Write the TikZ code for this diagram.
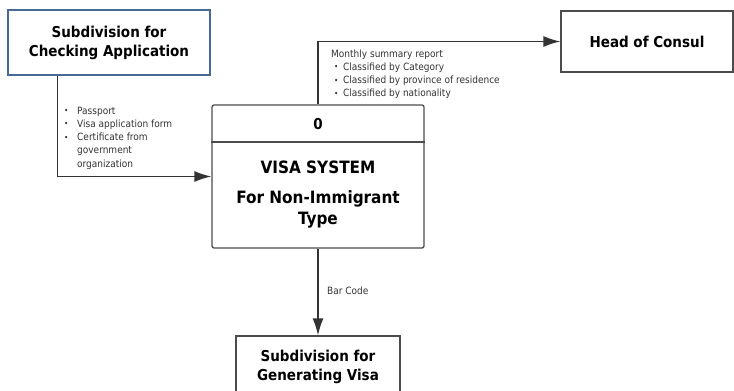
\documentclass[tikz,border=0pt]{standalone}
\usepackage{fontspec}
\setmainfont{DejaVu Sans Condensed}
\usetikzlibrary{arrows.meta}
\definecolor{chkblue}{RGB}{72,104,150}
\newcommand\bul{\raisebox{.1ex}{\footnotesize\textbullet}}
\begin{document}
\begin{tikzpicture}[x=1pt,y=-1pt,>={Latex[length=17pt,width=11pt]},
  box/.style={draw=black!70,line width=1.3pt,inner sep=0pt,align=center,font=\bfseries\fontsize{15}{19}\selectfont},
  flow/.style={->,draw=black!80,line width=1.4pt},
  small/.style={inner sep=0pt,text=black!80,font=\fontsize{10}{13.3}\selectfont}]
\useasboundingbox (0,0) rectangle (734,391);
\clip (0,0) rectangle (734,391);

\node[box,draw=chkblue,minimum width=202pt,minimum height=65pt] (chk) at (109,42.5) {Subdivision for\\Checking Application};
\node[box,minimum width=172pt,minimum height=61pt] (head) at (647,41.5) {Head of Consul};
\node[box,rounded corners=2pt,minimum width=212pt,minimum height=143pt] (sys) at (318,176.5) {};
\node[box,minimum width=164pt,minimum height=62pt] (gen) at (318,367) {Subdivision for\\Generating Visa};
\draw[black!70,line width=1.3pt] (sys.west |- 0,142) -- (sys.east |- 0,142);

\node[anchor=base,font=\bfseries\fontsize{15}{19}\selectfont] (num) at (318,129) {0};
\node[anchor=base,font=\bfseries\fontsize{17}{21}\selectfont] (title1) at (318,173) {VISA SYSTEM};
\node[anchor=base,font=\bfseries\fontsize{17}{21}\selectfont] (title2) at (318,203) {For Non-Immigrant};
\node[anchor=base,font=\bfseries\fontsize{17}{21}\selectfont] (title3) at (318,224) {Type};

\draw[flow] (chk.south west) ++(50,0) |- (sys.west);
\draw[flow] (sys.north) |- (head.west);
\draw[flow] (sys.south) -- (gen.north);

\node[small,anchor=base west] (docs) at (64,114) {\begin{tabular}[t]{@{}p{13pt}@{}l@{}}
\bul & Passport\\ \bul & Visa application form\\ \bul & Certificate from\\ & government\\ & organization\end{tabular}};
\node[small,anchor=base west] (report) at (331,57) {\begin{tabular}[t]{@{}p{12pt}@{}l@{}}
\multicolumn{2}{@{}l@{}}{Monthly summary report}\\ \hspace{3pt}\bul & Classified by Category\\
\hspace{3pt}\bul & Classified by province of residence\\ \hspace{3pt}\bul & Classified by nationality\end{tabular}};
\node[small,anchor=base west] (bar) at (327,294) {Bar Code};
\end{tikzpicture}
\end{document}
